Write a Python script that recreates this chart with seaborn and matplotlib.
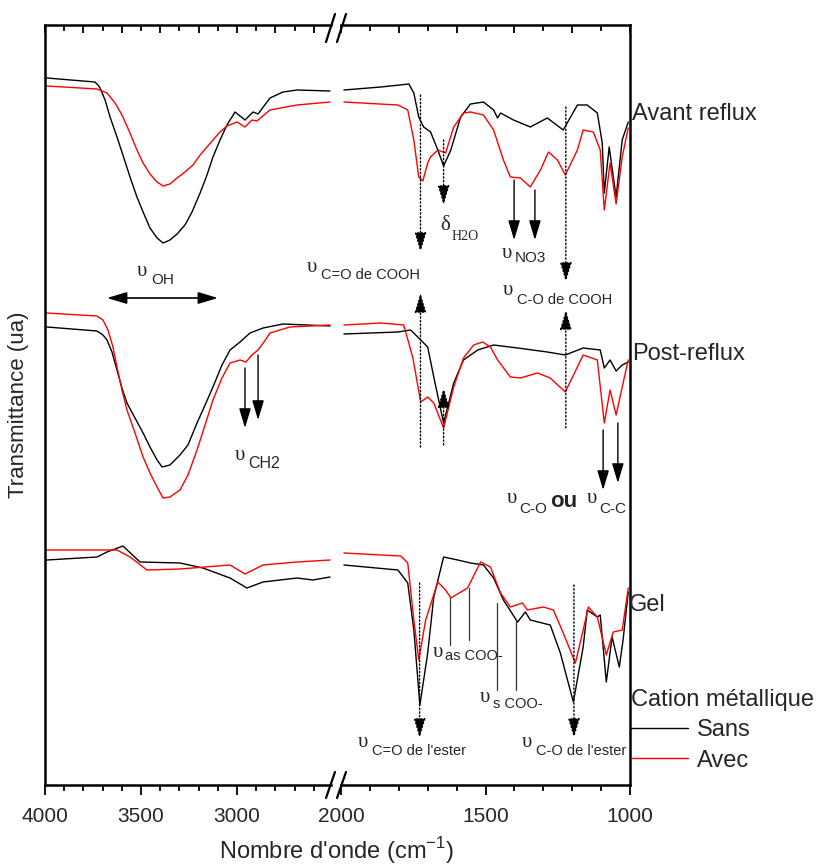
import pandas as pd
import seaborn as sns
import matplotlib.pyplot as plt
from matplotlib.lines import Line2D
from matplotlib.ticker import MultipleLocator

sns.set_theme(style='ticks')
plt.rcParams['font.family'] = ['Liberation Sans', 'DejaVu Sans']

# spectres (nombre d'onde en cm-1, transmittance en ua)
# partie gauche 4000-2500, partie droite 2000-1000
avant_sans_g_wn = [3990, 3740, 3724, 3713, 3687, 3661, 3625, 3594, 3557, 3521, 3489, 3453, 3416, 3385, 3349, 3312, 3271,
                   3234, 3192, 3156, 3125, 3088, 3052, 3010, 2958, 2916, 2890, 2828, 2760, 2687, 2515]
avant_sans_g_t = [707, 703, 700, 697, 685, 668, 648, 630, 608, 588, 573, 557, 547, 542, 545, 551, 560,
                  573, 592, 610, 628, 645, 660, 673, 665, 673, 671, 687, 693, 695, 694]
avant_avec_g_wn = [3990, 3729, 3677, 3635, 3599, 3557, 3521, 3489, 3453, 3416, 3385, 3349, 3312, 3271, 3229, 3192,
                   3156, 3125, 3088, 3052, 3000, 2958, 2922, 2896, 2828, 2687, 2515]
avant_avec_g_t = [699, 696, 692, 682, 670, 652, 635, 622, 611, 603, 599, 601, 607, 613, 620, 630,
                  638, 645, 653, 659, 663, 658, 665, 664, 675, 680, 683]

avant_sans_d_wn = [1990, 1862, 1765, 1748, 1731, 1714, 1690, 1665, 1645, 1620, 1586, 1552, 1507, 1472, 1458, 1448,
                   1403, 1345, 1286, 1231, 1182, 1148, 1113, 1096, 1089, 1072, 1048, 1027, 1006]
avant_sans_d_t = [695, 698, 701, 692, 668, 658, 653, 635, 619, 635, 668, 681, 683, 675, 667, 672,
                  665, 658, 667, 655, 680, 680, 672, 642, 592, 638, 588, 645, 663]
avant_avec_d_wn = [1990, 1803, 1769, 1748, 1731, 1717, 1700, 1690, 1665, 1638, 1610, 1576, 1552, 1507, 1472, 1438,
                   1414, 1379, 1345, 1310, 1282, 1251, 1224, 1182, 1162, 1127, 1103, 1089, 1069, 1048, 1027, 1006]
avant_avec_d_t = [683, 680, 675, 645, 608, 604, 622, 628, 635, 632, 658, 672, 673, 670, 655, 625,
                  608, 607, 598, 615, 633, 625, 610, 635, 655, 653, 635, 575, 622, 581, 628, 657]

post_sans_g_wn = [3990, 3729, 3698, 3677, 3651, 3625, 3599, 3573, 3531, 3489, 3453, 3416, 3390, 3349, 3297, 3255,
                  3208, 3166, 3125, 3078, 3036, 2984, 2932, 2864, 2760, 2515]
post_sans_g_t = [458, 454, 450, 445, 433, 415, 397, 382, 367, 352, 338, 325, 318, 320, 330, 340,
                 362, 380, 398, 420, 435, 443, 452, 457, 461, 459]
post_avec_g_wn = [3990, 3729, 3698, 3672, 3646, 3625, 3599, 3573, 3531, 3489, 3453, 3416, 3385, 3349, 3297, 3255,
                  3208, 3166, 3125, 3078, 3036, 2984, 2953, 2922, 2890, 2859, 2828, 2724, 2515]
post_avec_g_t = [472, 469, 465, 455, 438, 418, 395, 375, 352, 328, 312, 298, 287, 288, 295, 310,
                 335, 360, 385, 407, 422, 425, 423, 430, 435, 443, 452, 458, 460]

post_sans_d_wn = [1990, 1803, 1759, 1731, 1700, 1679, 1645, 1610, 1576, 1527, 1472, 1389, 1286, 1224, 1162, 1103,
                  1089, 1069, 1048, 1027, 1006]
post_sans_d_t = [451, 453, 455, 447, 438, 408, 362, 402, 425, 435, 440, 437, 433, 430, 437, 435,
                 417, 425, 414, 420, 423]
post_avec_d_wn = [1990, 1862, 1783, 1752, 1724, 1700, 1679, 1645, 1610, 1576, 1541, 1510, 1483, 1458, 1414, 1379,
                  1320, 1276, 1224, 1182, 1162, 1113, 1089, 1069, 1048, 1027, 1006]
post_avec_d_t = [460, 462, 460, 428, 383, 388, 382, 357, 398, 427, 440, 443, 438, 425, 408, 407,
                 412, 407, 393, 418, 430, 425, 362, 395, 370, 398, 425]

gel_sans_g_wn = [3990, 3729, 3677, 3594, 3505, 3297, 3177, 3036, 2948, 2864, 2687, 2604, 2515]
gel_sans_g_t = [225, 228, 233, 239, 223, 222, 217, 207, 197, 203, 207, 205, 208]
gel_avec_g_wn = [3990, 3729, 3625, 3557, 3469, 3297, 3036, 2958, 2864, 2687, 2515]
gel_avec_g_t = [235, 235, 235, 228, 215, 216, 220, 211, 220, 223, 225]

gel_sans_d_wn = [1990, 1803, 1769, 1748, 1727, 1700, 1679, 1645, 1596, 1552, 1507, 1472, 1438, 1389, 1362, 1345,
                 1276, 1241, 1196, 1162, 1148, 1113, 1103, 1082, 1062, 1037, 1024, 1006]
gel_sans_d_t = [220, 215, 202, 155, 80, 132, 188, 228, 225, 222, 220, 207, 185, 163, 173, 165,
                160, 132, 83, 138, 175, 168, 170, 103, 148, 118, 145, 193]
gel_avec_d_wn = [1990, 1793, 1769, 1748, 1731, 1707, 1665, 1638, 1620, 1562, 1517, 1483, 1448, 1414, 1372, 1355,
                 1300, 1265, 1231, 1189, 1162, 1144, 1113, 1082, 1058, 1027, 1006]
gel_avec_d_t = [232, 229, 222, 165, 125, 165, 203, 195, 187, 197, 223, 218, 192, 178, 182, 175,
                178, 175, 152, 122, 155, 178, 168, 130, 153, 155, 197]

etats = ['Avant reflux', 'Post-reflux', 'Gel']
cations = ['Sans', 'Avec']

series = {
    ('Avant reflux', 'Sans', 'g'): (avant_sans_g_wn, avant_sans_g_t),
    ('Avant reflux', 'Avec', 'g'): (avant_avec_g_wn, avant_avec_g_t),
    ('Avant reflux', 'Sans', 'd'): (avant_sans_d_wn, avant_sans_d_t),
    ('Avant reflux', 'Avec', 'd'): (avant_avec_d_wn, avant_avec_d_t),
    ('Post-reflux', 'Sans', 'g'): (post_sans_g_wn, post_sans_g_t),
    ('Post-reflux', 'Avec', 'g'): (post_avec_g_wn, post_avec_g_t),
    ('Post-reflux', 'Sans', 'd'): (post_sans_d_wn, post_sans_d_t),
    ('Post-reflux', 'Avec', 'd'): (post_avec_d_wn, post_avec_d_t),
    ('Gel', 'Sans', 'g'): (gel_sans_g_wn, gel_sans_g_t),
    ('Gel', 'Avec', 'g'): (gel_avec_g_wn, gel_avec_g_t),
    ('Gel', 'Sans', 'd'): (gel_sans_d_wn, gel_sans_d_t),
    ('Gel', 'Avec', 'd'): (gel_avec_d_wn, gel_avec_d_t),
}

rows = []
for (etat, cation, part), (wn, t) in series.items():
    for i in range(len(wn)):
        rows.append({'etat': etat, 'cation': cation, 'part': part, 'wn': wn[i], 'T': t[i]})
df = pd.DataFrame(rows)

W, H = 827, 865
fig = plt.figure(figsize=(W / 100, H / 100), dpi=100)
ax_g = fig.add_axes([45 / W, 1 - 785 / H, 286 / W, 760 / H])
ax_d = fig.add_axes([341 / W, 1 - 785 / H, 289 / W, 760 / H])

couleurs = {'Sans': 'black', 'Avec': 'red'}
for ax, part in [(ax_g, 'g'), (ax_d, 'd')]:
    ax.patch.set_visible(False)
    sub = df[df['part'] == part]
    sns.lineplot(data=sub, x='wn', y='T', hue='cation', hue_order=cations, units='etat',
                 estimator=None, sort=False, palette=couleurs, lw=1, legend=False, ax=ax)
    ax.set_ylim(0, 760)
    ax.set_xlabel('')
    ax.set_ylabel('')
    ax.set_yticks([])
    ax.xaxis.set_minor_locator(MultipleLocator(100))
    ax.tick_params(axis='x', which='major', direction='out', length=7, width=1.3, labelsize=15, pad=9, color='black')
    ax.tick_params(axis='x', which='minor', direction='out', length=4, width=1.3, color='black')
    for s in ax.spines.values():
        s.set_linewidth(1.8)
        s.set_color('black')
    top = ax.secondary_xaxis('top')
    top.xaxis.set_minor_locator(MultipleLocator(100))
    top.tick_params(axis='x', which='major', direction='in', length=6, width=1.3, labelsize=0, labeltop=False, color='black')
    top.tick_params(axis='x', which='minor', direction='in', length=4, width=1.3, color='black')
    top.spines['top'].set_visible(False)

ax_g.set_xlim(4000, 2510)
ax_g.set_xticks([4000, 3500, 3000])
ax_g.spines['right'].set_visible(False)
ax_d.set_xlim(2000, 1000)
ax_d.set_xticks([2000, 1500, 1000])
ax_d.spines['left'].set_visible(False)

ax_g.set_ylabel('Transmittance (ua)', fontsize=16)
ax_g.yaxis.set_label_coords(-16 / 286, 0.5)
fig.text(337 / W, 1 - 851 / H, "Nombre d'onde (cm$^{\\mathregular{-1}}$)", fontsize=17, ha='center', va='center')

# marques de coupure
for py0, py1 in [(42, 14), (798, 772)]:
    for dx in [0, 11]:
        fig.add_artist(Line2D([(326 + dx) / W, (335 + dx) / W], [1 - py0 / H, 1 - py1 / H],
                              color='black', lw=1.6, transform=fig.transFigure))

# fleches
tete = '-|>,head_length=0.6,head_width=0.18'


def fleche(ax, x, y0, y1, style=':'):
    ax.annotate('', xy=(x, y1), xytext=(x, y0), annotation_clip=False,
                arrowprops=dict(arrowstyle=tete, linestyle=style, lw=1, color='black',
                                shrinkA=0, shrinkB=0, mutation_scale=20))


fleche(ax_d, 1725, 690, 533)
fleche(ax_d, 1645, 645, 580)
fleche(ax_d, 1222, 678, 503)
fleche(ax_d, 1401, 605, 545, '-')
fleche(ax_d, 1329, 595, 545, '-')
fleche(ax_d, 1725, 338, 492)
fleche(ax_d, 1645, 340, 397)
fleche(ax_d, 1222, 357, 475)
fleche(ax_g, 2958, 417, 357, '-')
fleche(ax_g, 2890, 430, 365, '-')
fleche(ax_d, 1093, 355, 295, '-')
fleche(ax_d, 1042, 362, 302, '-')
fleche(ax_d, 1728, 202, 47)
fleche(ax_d, 1194, 200, 47)
ax_g.annotate('', xy=(3099, 487), xytext=(3677, 487),
              arrowprops=dict(arrowstyle='<|-|>,head_length=0.6,head_width=0.18', lw=1.2, color='black',
                              shrinkA=0, shrinkB=0, mutation_scale=20))

for x, y0, y1 in [(1623, 187, 140), (1557, 197, 145), (1460, 182, 95), (1395, 165, 95)]:
    ax_d.plot([x, x], [y0, y1], color='#333333', lw=0.9)


def etiquette(ax, x, y, sym, sub, dx=10, dy=-6, subsize=10.5, subfam='Liberation Sans'):
    ax.text(x, y, sym, fontsize=15, family='Liberation Serif', va='baseline', ha='left')
    ax.annotate(sub, (x, y), xytext=(dx, dy), textcoords='offset points', fontsize=subsize,
                family=subfam, va='baseline', ha='left', annotation_clip=False)


etiquette(ax_g, 3521, 509, 'υ', 'OH', dx=10, dy=-6, subsize=11)
etiquette(ax_g, 2635, 513, 'υ', 'C=O de COOH', dx=10, dy=-5)
etiquette(ax_d, 1657, 555, 'δ', 'H2O', dx=8, dy=-7, subsize=10, subfam='Liberation Serif')
etiquette(ax_d, 1443, 527, 'υ', 'NO3', dx=9, dy=-3, subsize=11)
etiquette(ax_d, 1440, 490, 'υ', 'C-O de COOH', dx=10, dy=-6.5)
etiquette(ax_g, 3010, 325, 'υ', 'CH2', dx=9.5, dy=-6, subsize=11.5)
etiquette(ax_d, 1426, 282, 'υ', 'C-O', dx=9, dy=-7, subsize=11)
ax_d.text(1277, 278, 'ou', fontsize=16, fontweight='bold', va='baseline', ha='left')
etiquette(ax_d, 1149, 282, 'υ', 'C-C', dx=9, dy=-7, subsize=11)
etiquette(ax_d, 1682, 128, 'υ', 'as COO-', dx=9, dy=-2)
etiquette(ax_d, 1519, 83, 'υ', 's COO-', dx=9, dy=-4)
etiquette(ax_d, 1941, 38, 'υ', "C=O de l'ester", dx=10, dy=-6)
etiquette(ax_d, 1374, 38, 'υ', "C-O de l'ester", dx=10, dy=-6)

ax_d.text(993, 665, 'Avant reflux', fontsize=17, va='baseline', ha='left')
ax_d.text(993, 425, 'Post-reflux', fontsize=17, va='baseline', ha='left')
ax_d.text(1003, 174, 'Gel', fontsize=17, va='baseline', ha='left')

poignees = [Line2D([], [], color=couleurs[c], lw=1) for c in cations]
leg = ax_d.legend(poignees, cations, title='Cation métallique', loc='upper left',
                  bbox_to_anchor=(631 / W, 1 - 689 / H), bbox_transform=fig.transFigure,
                  frameon=False, fontsize=17, title_fontsize=17, handlelength=2.4,
                  handletextpad=0.4, labelspacing=0.35, borderpad=0, borderaxespad=0,
                  alignment='left')

fig.savefig('out.png', dpi=100)
